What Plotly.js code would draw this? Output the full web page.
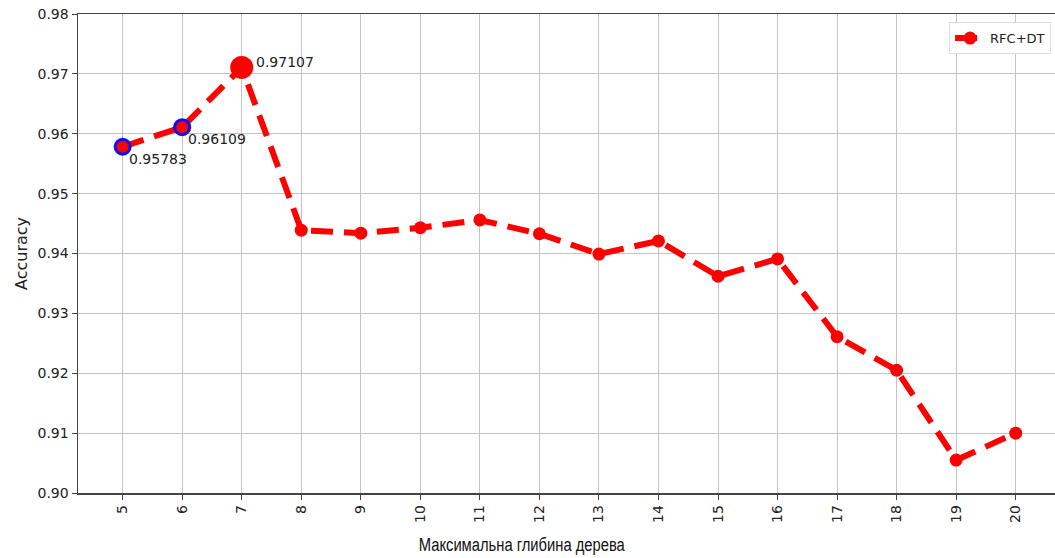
<!DOCTYPE html>
<html>
<head>
<meta charset="utf-8">
<script src="https://cdn.plot.ly/plotly-3.0.1.min.js"></script>
<style>html,body{margin:0;padding:0;background:#fff;}#chart{width:1055px;height:558px;}</style>
</head>
<body>
<div id="chart"></div>
<script>
const depths = [5, 6, 7, 8, 9, 10, 11, 12, 13, 14, 15, 16, 17, 18, 19, 20];
const accuracy = [0.95783, 0.96109, 0.97107, 0.9439, 0.9434, 0.9443, 0.9456, 0.9433, 0.9399, 0.9421, 0.9362, 0.9391, 0.9261, 0.9205, 0.9055, 0.9100];
const highlightDepths = [5, 6];
const highlightAcc = [0.95783, 0.96109];
const bestDepth = [7];
const bestAcc = [0.97107];
const annLabels = ["0.95783", "0.96109", "0.97107"];
const annX = [5, 6, 7];
const annY = [0.95783, 0.96109, 0.97107];
const yTicks = [0.90, 0.91, 0.92, 0.93, 0.94, 0.95, 0.96, 0.97, 0.98];
const yTickText = ["0.90", "0.91", "0.92", "0.93", "0.94", "0.95", "0.96", "0.97", "0.98"];
const xTitle = 'Максимальна глибина дерева';
const yTitle = 'Accuracy';

const traces = [
  {
    x: depths, y: accuracy, type: 'scatter', mode: 'lines+markers', name: 'RFC+DT',
    line: {color: '#ff0000', width: 6, dash: '22px,11px'},
    marker: {color: '#ff0000', size: 13}
  },
  {
    x: highlightDepths, y: highlightAcc, type: 'scatter', mode: 'markers', showlegend: false,
    marker: {color: '#ff0000', size: 15, line: {color: '#1010ee', width: 3}}, hoverinfo: 'skip'
  },
  {
    x: bestDepth, y: bestAcc, type: 'scatter', mode: 'markers', showlegend: false,
    marker: {color: '#ff0000', size: 23}, hoverinfo: 'skip'
  }
];

const offsets = [[4, 12], [4, 12], [12, -5]];
const annotations = annLabels.map((t, i) => ({
  x: annX[i], y: annY[i], xref: 'x', yref: 'y', text: t, showarrow: false,
  xanchor: 'left', yanchor: 'middle', xshift: offsets[i][0], yshift: -offsets[i][1],
  font: {family: 'DejaVu Sans', size: 14, color: '#222'}
}));
annotations.push({
  xref: 'paper', yref: 'paper', x: 0.4545, y: -0.1086, xanchor: 'center', yanchor: 'middle',
  text: xTitle, showarrow: false,
  font: {family: 'Liberation Sans', size: 18, color: '#111'}
});

const layout = {
  width: 1055, height: 558,
  margin: {l: 78, r: 0, t: 14, b: 65},
  paper_bgcolor: '#fff', plot_bgcolor: '#fff',
  showlegend: true,
  legend: {x: 0.996, y: 0.983, xanchor: 'right', yanchor: 'top', bgcolor: '#fff',
    bordercolor: '#dddddd', borderwidth: 1, itemwidth: 30,
    font: {family: 'DejaVu Sans', size: 13, color: '#222'}},
  xaxis: {
    range: [4.25, 20.66], tickvals: depths, ticktext: depths.map(String), tickangle: -90,
    showgrid: true, gridcolor: '#c4c4c4', gridwidth: 1, zeroline: false,
    showline: true, linecolor: '#444', linewidth: 1.5, mirror: true,
    ticks: 'outside', ticklen: 5, tickcolor: '#444',
    tickfont: {family: 'DejaVu Sans', size: 14, color: '#222'}
  },
  yaxis: {
    range: [0.90, 0.98], tickvals: yTicks, ticktext: yTickText,
    showgrid: true, gridcolor: '#c4c4c4', gridwidth: 1, zeroline: false,
    showline: true, linecolor: '#444', linewidth: 1.5,
    ticks: 'outside', ticklen: 5, tickcolor: '#444',
    tickfont: {family: 'DejaVu Sans', size: 14, color: '#222'},
    title: {text: yTitle, font: {family: 'DejaVu Sans', size: 16, color: '#222'}, standoff: 6}
  },
  annotations: annotations
};

Plotly.newPlot('chart', traces, layout, {displayModeBar: false, staticPlot: true}).then(gd => {
  gd.querySelectorAll('.annotation-text').forEach(el => {
    if (el.textContent === xTitle) {
      el.setAttribute('textLength', '206');
      el.setAttribute('lengthAdjust', 'spacingAndGlyphs');
    }
  });
});
</script>
</body>
</html>
